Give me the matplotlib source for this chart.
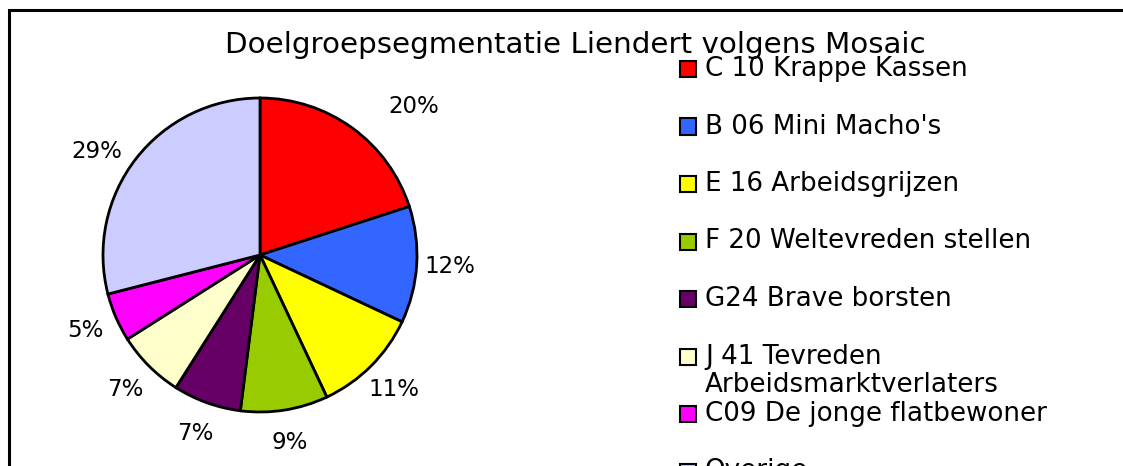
import matplotlib
matplotlib.use("Agg")
import matplotlib.pyplot as plt
from matplotlib.patches import Rectangle
import numpy as np

# data
labels = ["C 10 Krappe Kassen", "B 06 Mini Macho's", "E 16 Arbeidsgrijzen",
          "F 20 Weltevreden stellen", "G24 Brave borsten",
          "J 41 Tevreden\nArbeidsmarktverlaters", "C09 De jonge flatbewoner",
          "Overige"]
values = [20, 12, 11, 9, 7, 7, 5, 29]
colors = ["#FF0000", "#3366FF", "#FFFF00", "#99CC00", "#660066",
          "#FFFFCC", "#FF00FF", "#CCCCFF"]

W, H = 1123, 466
fig = plt.figure(figsize=(W / 100, H / 100), dpi=100)
plt.rcParams['font.family'] = ['DejaVu Sans']

# outer frame (right/bottom run off the picture)
fig.patches.append(Rectangle((9 / W, -0.1), 1.2, 1 - 10 / H - (-0.1),
                             transform=fig.transFigure, fill=False,
                             edgecolor="black", linewidth=2.2))

# pie axes: center (260,255) px, radius 157 px
cx, cy, r = 260, 255, 157
ax = fig.add_axes([(cx - r) / W, (H - cy - r) / H, 2 * r / W, 2 * r / H])
wedges, texts, autotexts = ax.pie(values, colors=colors, startangle=90, counterclock=False,
                                  autopct="%1.0f%%", pctdistance=1.21,
                                  wedgeprops=dict(edgecolor="black", linewidth=2))
ax.set_xlim(-1, 1)
ax.set_ylim(-1, 1)
ax.set_aspect("equal")
ax.axis("off")
for w in wedges:
    w.set_clip_on(False)
for t in autotexts:
    t.set_fontsize(16.5)
    t.set_color("black")
# Excel puts the first and last labels a bit further round
a = np.deg2rad(44)
autotexts[0].set_position((1.36 * np.cos(a), 1.36 * np.sin(a)))
a = np.deg2rad(147.5)
autotexts[-1].set_position((1.23 * np.cos(a), 1.23 * np.sin(a)))

fig.text(575 / W, 1 - 45 / H, "Doelgroepsegmentatie Liendert volgens Mosaic",
         ha="center", va="center", fontsize=21.2, color="black")

# legend, fixed row pitch like the original
top, step = 69, 57.5
for i, (lab, col) in enumerate(zip(labels, colors)):
    y = top + i * step
    fig.patches.append(Rectangle((680 / W, 1 - (y + 8) / H), 16 / W, 16 / H,
                                 transform=fig.transFigure, facecolor=col,
                                 edgecolor="black", linewidth=1.5))
    fig.text(705 / W, 1 - (y - 13) / H, lab, ha="left", va="top",
             fontsize=18.8, color="black", linespacing=1.1)

fig.savefig("out.png", dpi=100)
